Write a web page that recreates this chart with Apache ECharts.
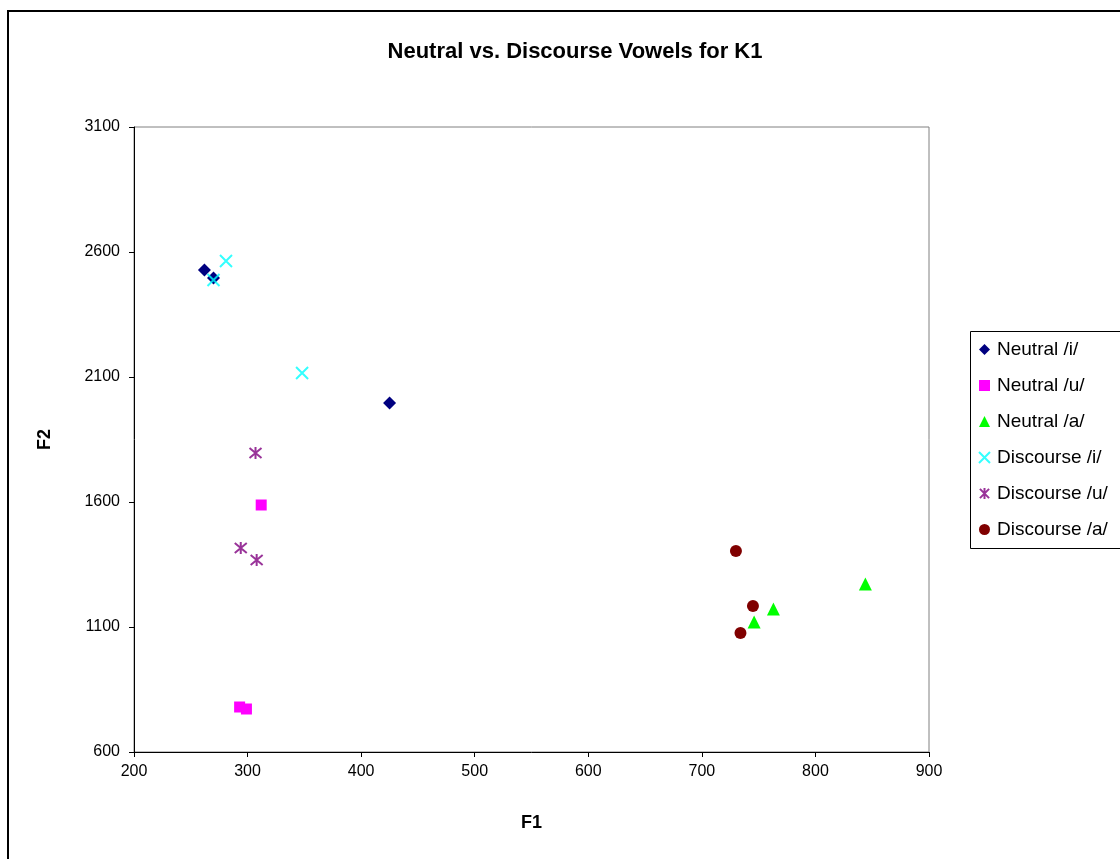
<!DOCTYPE html>
<html>
<head>
<meta charset="utf-8">
<script src="https://cdn.jsdelivr.net/npm/echarts@6/dist/echarts.min.js"></script>
<style>html,body{margin:0;padding:0;background:#fff}#c{width:1120px;height:859px}</style>
</head>
<body>
<div id="c"></div>
<script>
var seriesNames = ['Neutral /i/', 'Neutral /u/', 'Neutral /a/', 'Discourse /i/', 'Discourse /u/', 'Discourse /a/'];
var neutralI = [[262, 2528], [270, 2496], [425, 1996]];
var neutralU = [[312, 1588], [293, 780], [299, 772]];
var neutralA = [[844, 1272], [763, 1172], [746, 1120]];
var discourseI = [[281, 2564], [270, 2488], [348, 2116]];
var discourseU = [[307, 1796], [294, 1416], [308, 1368]];
var discourseA = [[730, 1404], [745, 1184], [734, 1076]];
var xTicks = [200, 300, 400, 500, 600, 700, 800, 900];
var yTicks = [600, 1100, 1600, 2100, 2600, 3100];

var FONT = 'Liberation Sans, Arial, sans-serif';
var chart = echarts.init(document.getElementById('c'));

function strokeSeries(name, data, color, path, size) {
  return {
    name: name, type: 'scatter', data: data,
    symbol: path, symbolSize: size,
    itemStyle: { color: 'rgba(0,0,0,0)', borderColor: color, borderWidth: 2 },
    emphasis: { disabled: true }
  };
}
function fillSeries(name, data, color, symbol, size) {
  return {
    name: name, type: 'scatter', data: data,
    symbol: symbol, symbolSize: size,
    itemStyle: { color: color, opacity: 1 },
    emphasis: { disabled: true }
  };
}

var crossPath = 'path://M0,0L10,10M10,0L0,10';
var starPath = 'path://M0,0L10,10M10,0L0,10M5,-1L5,11';

chart.setOption({
  animation: false,
  backgroundColor: '#fff',
  title: {
    text: 'Neutral vs. Discourse Vowels for K1',
    left: 570, top: 36, textAlign: 'center',
    textStyle: { fontFamily: FONT, fontSize: 22, fontWeight: 'bold', color: '#000' }
  },
  graphic: [
    { type: 'rect', shape: { x: 8, y: 11, width: 1200, height: 1000 },
      style: { fill: 'none', stroke: '#000', lineWidth: 2 }, z: -1 },
    { type: 'rect', shape: { x: 970.5, y: 331.5, width: 200, height: 217 },
      style: { fill: '#fff', stroke: '#000', lineWidth: 1 }, z: 0 }
  ],
  grid: { left: 134, top: 127, right: 191, bottom: 107, show: true,
    borderColor: '#808080', borderWidth: 1, backgroundColor: 'transparent' },
  legend: {
    orient: 'vertical', left: 978, top: 340, padding: 0, itemGap: 17, itemWidth: 11, itemHeight: 11,
    data: seriesNames, z: 5,
    textStyle: { fontFamily: FONT, fontSize: 19, color: '#000', padding: [0, 0, 0, 2] }
  },
  xAxis: {
    type: 'value', min: 200, max: 900, interval: 100,
    name: 'F1', nameLocation: 'middle', nameGap: 62,
    nameTextStyle: { fontFamily: FONT, fontSize: 18, fontWeight: 'bold', color: '#000' },
    axisLine: { show: true, lineStyle: { color: '#000', width: 1 } },
    axisTick: { show: true, inside: false, length: 5, lineStyle: { color: '#000' } },
    axisLabel: { fontFamily: FONT, fontSize: 16, color: '#000', margin: 12,
      formatter: function (v) { return xTicks.indexOf(v) >= 0 ? String(v) : ''; } },
    splitLine: { show: false }
  },
  yAxis: {
    type: 'value', min: 600, max: 3100, interval: 500,
    name: 'F2', nameLocation: 'middle', nameGap: 80, nameRotate: 90,
    nameTextStyle: { fontFamily: FONT, fontSize: 18, fontWeight: 'bold', color: '#000' },
    axisLine: { show: true, lineStyle: { color: '#000', width: 1 } },
    axisTick: { show: true, inside: false, length: 5, lineStyle: { color: '#000' } },
    axisLabel: { fontFamily: FONT, fontSize: 16, color: '#000', margin: 14,
      formatter: function (v) { return yTicks.indexOf(v) >= 0 ? String(v) : ''; } },
    splitLine: { show: false }
  },
  series: [
    fillSeries(seriesNames[0], neutralI, '#000080', 'diamond', 13),
    fillSeries(seriesNames[1], neutralU, '#FF00FF', 'rect', 11),
    fillSeries(seriesNames[2], neutralA, '#00FF00', 'triangle', 13),
    strokeSeries(seriesNames[3], discourseI, '#00FFFF', crossPath, 12),
    strokeSeries(seriesNames[4], discourseU, '#800080', starPath, 12),
    fillSeries(seriesNames[5], discourseA, '#800000', 'circle', 12)
  ]
});
</script>
</body>
</html>
